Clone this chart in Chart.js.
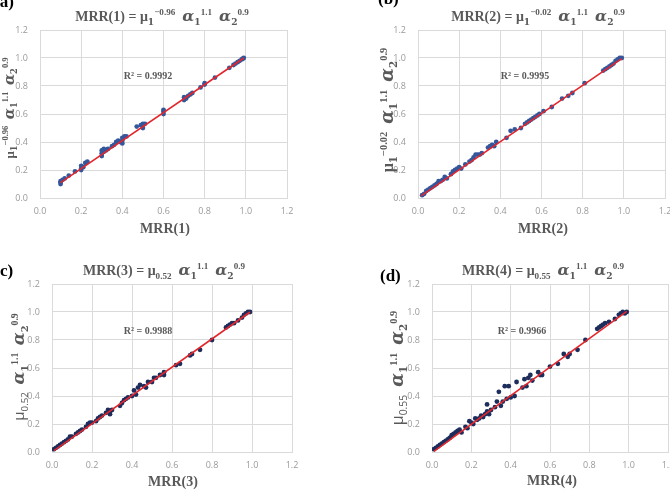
<!DOCTYPE html>
<html>
<head>
<meta charset="utf-8">
<script src="https://cdn.jsdelivr.net/npm/chart.js@4/dist/chart.umd.min.js"></script>
<style>
  html, body { margin: 0; padding: 0; background: #fff; }
  body { width: 670px; height: 497px; position: relative; overflow: hidden; font-family: "Liberation Serif", serif; }
  canvas { position: absolute; }
  .txt { position: absolute; white-space: nowrap; color: #595959; font-weight: bold; transform: translate(-50%, -50%); line-height: 1; }
  .ttl { font-size: 14px; }
  .ax { font-size: 14px; }
  .r2 { font-size: 10px; }
  .yt { transform: translate(-50%, -50%) rotate(-90deg); }
  .tag { position: absolute; color: #000; font-weight: bold; font-size: 17px; line-height: 1; }
  .al { font-family: "DejaVu Serif", serif; font-style: italic; font-weight: bold; font-size: 112%; }
  .bs { font-family: "DejaVu Serif", serif; font-weight: bold; }
  .mu { font-family: "Liberation Serif", serif; }
  .mus { font-family: "Open Sans", sans-serif; font-weight: normal; }
  sub, sup { font-size: 65%; line-height: 0; }
</style>
</head>
<body>
<script>
// tick labels shared by every panel
const TICKS = [0, 0.2, 0.4, 0.6, 0.8, 1.0, 1.2];

// (a) MRR(1) vs model
const mrr1Points = [
  [0.10, 0.11], [0.10, 0.12], [0.10, 0.10], [0.11, 0.13], [0.12, 0.14], [0.14, 0.16], [0.17, 0.19],
  [0.20, 0.21], [0.20, 0.23], [0.20, 0.20], [0.21, 0.22], [0.22, 0.25], [0.23, 0.26],
  [0.30, 0.30], [0.30, 0.32], [0.30, 0.34], [0.31, 0.33], [0.31, 0.35], [0.32, 0.34], [0.33, 0.35],
  [0.35, 0.37], [0.36, 0.38], [0.37, 0.40], [0.38, 0.41], [0.39, 0.40], [0.40, 0.41], [0.40, 0.43],
  [0.40, 0.39], [0.41, 0.44], [0.42, 0.44], [0.47, 0.51], [0.49, 0.52], [0.50, 0.50], [0.50, 0.53],
  [0.51, 0.53], [0.60, 0.60], [0.60, 0.62], [0.60, 0.63], [0.70, 0.70], [0.70, 0.72], [0.71, 0.71],
  [0.72, 0.73], [0.73, 0.74], [0.74, 0.75], [0.78, 0.79], [0.80, 0.81], [0.80, 0.82], [0.85, 0.86],
  [0.92, 0.93], [0.94, 0.95], [0.95, 0.96], [0.96, 0.97], [0.97, 0.98], [0.98, 0.99], [0.99, 1.00], [0.985, 0.995]
];
const fit1 = [[0.10, 0.11], [0.99, 1.00]];

// (b) MRR(2)
const mrr2Points = [
  [0.02, 0.02], [0.03, 0.03], [0.04, 0.05], [0.05, 0.06], [0.06, 0.07], [0.07, 0.08], [0.08, 0.09],
  [0.09, 0.10], [0.10, 0.12], [0.11, 0.12], [0.12, 0.13], [0.13, 0.15], [0.14, 0.14], [0.16, 0.17],
  [0.17, 0.19], [0.18, 0.20], [0.19, 0.21], [0.20, 0.22], [0.21, 0.21], [0.23, 0.24], [0.25, 0.26],
  [0.26, 0.27], [0.27, 0.29], [0.28, 0.31], [0.29, 0.31], [0.30, 0.31], [0.31, 0.32], [0.34, 0.36],
  [0.35, 0.37], [0.36, 0.38], [0.37, 0.37], [0.38, 0.40], [0.43, 0.43], [0.45, 0.48], [0.47, 0.49],
  [0.50, 0.50], [0.52, 0.53], [0.53, 0.54], [0.54, 0.55], [0.55, 0.56], [0.56, 0.57], [0.57, 0.58],
  [0.58, 0.59], [0.59, 0.60], [0.61, 0.62], [0.65, 0.65], [0.70, 0.71], [0.73, 0.73], [0.75, 0.75],
  [0.81, 0.82], [0.90, 0.91], [0.91, 0.92], [0.92, 0.93], [0.93, 0.94], [0.94, 0.95], [0.95, 0.96],
  [0.96, 0.98], [0.97, 0.99], [0.98, 1.00], [0.99, 1.00]
];
const fit2 = [[0.015, 0.015], [0.99, 0.995]];

// (c) MRR(3)
const mrr3Points = [
  [0.01, 0.02], [0.02, 0.03], [0.03, 0.04], [0.04, 0.05], [0.05, 0.06], [0.06, 0.07], [0.07, 0.08],
  [0.08, 0.09], [0.09, 0.11], [0.10, 0.11], [0.12, 0.13], [0.13, 0.14], [0.14, 0.15], [0.15, 0.16],
  [0.17, 0.18], [0.18, 0.20], [0.19, 0.21], [0.20, 0.21], [0.22, 0.22], [0.23, 0.24], [0.24, 0.25],
  [0.25, 0.26], [0.27, 0.28], [0.28, 0.30], [0.29, 0.29], [0.29, 0.27], [0.30, 0.30], [0.34, 0.33],
  [0.35, 0.35], [0.36, 0.37], [0.37, 0.38], [0.38, 0.39], [0.40, 0.40], [0.41, 0.44], [0.42, 0.41],
  [0.43, 0.46], [0.44, 0.48], [0.46, 0.47], [0.47, 0.46], [0.48, 0.50], [0.50, 0.50], [0.51, 0.53],
  [0.52, 0.53], [0.54, 0.55], [0.56, 0.55], [0.56, 0.57], [0.62, 0.62], [0.64, 0.63], [0.69, 0.69],
  [0.70, 0.70], [0.74, 0.73], [0.80, 0.80], [0.87, 0.89], [0.88, 0.90], [0.89, 0.91], [0.90, 0.92],
  [0.91, 0.92], [0.93, 0.94], [0.95, 0.96], [0.96, 0.98], [0.97, 0.99], [0.98, 1.00], [0.99, 1.00]
];
const fit3 = [[0.01, 0.01], [0.99, 1.00]];

// (d) MRR(4)
const mrr4Points = [
  [0.01, 0.02], [0.02, 0.03], [0.03, 0.04], [0.04, 0.05], [0.05, 0.06], [0.06, 0.07], [0.07, 0.08],
  [0.08, 0.09], [0.09, 0.10], [0.10, 0.12], [0.11, 0.13], [0.12, 0.14], [0.13, 0.15], [0.14, 0.16],
  [0.15, 0.14], [0.17, 0.18], [0.18, 0.17], [0.19, 0.22], [0.20, 0.21], [0.21, 0.20], [0.22, 0.24],
  [0.23, 0.23], [0.24, 0.24], [0.25, 0.26], [0.26, 0.25], [0.27, 0.27], [0.28, 0.34], [0.28, 0.29],
  [0.29, 0.27], [0.30, 0.30], [0.32, 0.32], [0.33, 0.36], [0.34, 0.43], [0.35, 0.33], [0.36, 0.36],
  [0.37, 0.47], [0.38, 0.38], [0.39, 0.47], [0.40, 0.39], [0.42, 0.40], [0.43, 0.50], [0.46, 0.46],
  [0.47, 0.52], [0.48, 0.47], [0.49, 0.53], [0.50, 0.55], [0.51, 0.51], [0.54, 0.57], [0.55, 0.55],
  [0.56, 0.55], [0.60, 0.61], [0.64, 0.63], [0.67, 0.70], [0.69, 0.68], [0.70, 0.70], [0.74, 0.73],
  [0.78, 0.80], [0.84, 0.88], [0.85, 0.89], [0.86, 0.90], [0.87, 0.91], [0.88, 0.92], [0.90, 0.93],
  [0.93, 0.95], [0.95, 0.98], [0.96, 0.99], [0.97, 1.00], [0.98, 0.99], [0.99, 1.00]
];
const fit4 = [[0.01, 0.005], [0.99, 1.005]];

const R2_LABELS = ["R² = 0.9992", "R² = 0.9995", "R² = 0.9988", "R² = 0.9966"];

function toXY(pairs) {
  return pairs.map(([x, y]) => ({ x, y }));
}

// plot-area rectangles in page pixels: [left, top, right, bottom]
const panels = [
  { points: mrr1Points, fit: fit1, dot: "#34579c", area: [40, 30, 287, 198] },
  { points: mrr2Points, fit: fit2, dot: "#34579c", area: [418, 30, 665, 198] },
  { points: mrr3Points, fit: fit3, dot: "#1d2d5c", area: [52, 284, 292, 452] },
  { points: mrr4Points, fit: fit4, dot: "#1d2d5c", area: [432, 284, 668, 452] },
];

const Y_AXIS_W = 40;
const X_AXIS_H = 24;
const PAD_TOP = 10;
const PAD_RIGHT = 14;

function makeChart(panel) {
  const [l, t, r, b] = panel.area;
  const canvas = document.createElement("canvas");
  const w = r - l + Y_AXIS_W + PAD_RIGHT;
  const h = b - t + PAD_TOP + X_AXIS_H;
  canvas.width = w;
  canvas.height = h;
  canvas.style.width = w + "px";
  canvas.style.height = h + "px";
  canvas.style.left = (l - Y_AXIS_W) + "px";
  canvas.style.top = (t - PAD_TOP) + "px";
  document.body.appendChild(canvas);

  const tickFont = { family: "'Open Sans', sans-serif", size: 9 };

  return new Chart(canvas.getContext("2d"), {
    type: "scatter",
    data: {
      datasets: [
        {
          type: "line",
          data: toXY(panel.fit),
          borderColor: "#e3262b",
          borderWidth: 1.6,
          pointRadius: 0,
          fill: false,
          order: 0,
        },
        {
          data: toXY(panel.points),
          backgroundColor: panel.dot,
          borderColor: panel.dot,
          pointRadius: 2.4,
          borderWidth: 0,
          order: 1,
        },
      ],
    },
    options: {
      responsive: false,
      animation: false,
      devicePixelRatio: 1,
      layout: { padding: { top: PAD_TOP, right: PAD_RIGHT, left: 0, bottom: 0 } },
      plugins: { legend: { display: false }, tooltip: { enabled: false } },
      scales: {
        x: {
          type: "linear",
          min: TICKS[0],
          max: TICKS[TICKS.length - 1],
          afterBuildTicks(scale) {
            scale.ticks = TICKS.map((v) => ({ value: v }));
          },
          afterFit(scale) {
            scale.height = X_AXIS_H;
            scale.paddingLeft = 0;
            scale.paddingRight = 0;
          },
          ticks: {
            callback: (v) => Number(v).toFixed(1),
            color: "#9a9a9a",
            font: tickFont,
            padding: 8,
            maxRotation: 0,
            autoSkip: false,
          },
          grid: { color: "#dadada", drawTicks: false, lineWidth: 1 },
          border: { color: "#dadada" },
        },
        y: {
          type: "linear",
          min: TICKS[0],
          max: TICKS[TICKS.length - 1],
          afterBuildTicks(scale) {
            scale.ticks = TICKS.map((v) => ({ value: v }));
          },
          afterFit(scale) {
            scale.width = Y_AXIS_W;
            scale.paddingTop = 0;
            scale.paddingBottom = 0;
          },
          ticks: {
            callback: (v) => Number(v).toFixed(1),
            color: "#9a9a9a",
            font: tickFont,
            padding: 12,
            autoSkip: false,
          },
          grid: { color: "#dadada", drawTicks: false, lineWidth: 1 },
          border: { color: "#dadada" },
        },
      },
    },
  });
}

function addText(html, cls, x, y, extra) {
  const el = document.createElement("div");
  el.className = cls;
  el.innerHTML = html;
  el.style.left = x + "px";
  el.style.top = y + "px";
  if (extra) Object.assign(el.style, extra);
  document.body.appendChild(el);
  return el;
}

panels.forEach(makeChart);

const alphaPart = '<span class="al">α</span><sub class="bs">1</sub><sup>1.1</sup>&nbsp; <span class="al">α</span><sub class="bs">2</sub><sup>0.9</sup>';
const muNeg = (e) => '<span class="mu">μ</span><sub class="bs">1</sub><sup>−' + e + '</sup>&nbsp; ';
const muSub = (s) => '<span class="mu">μ</span><sub>' + s + '</sub>&nbsp; ';
const muSubSans = (s) => '<span class="mus">μ<sub>' + s + '</sub></span>&nbsp; ';

// titles
addText("MRR(1) = " + muNeg("0.96") + alphaPart, "txt ttl", 162, 16);
addText("MRR(2) = " + muNeg("0.02") + alphaPart, "txt ttl", 538, 16);
addText("MRR(3) = " + muSub("0.52") + alphaPart, "txt ttl", 164, 270);
addText("MRR(4) = " + muSub("0.55") + alphaPart, "txt ttl", 543, 270);

// x-axis titles
addText("MRR(1)", "txt ax", 165, 229);
addText("MRR(2)", "txt ax", 543, 229);
addText("MRR(3)", "txt ax", 173, 482);
addText("MRR(4)", "txt ax", 552, 481);

// y-axis titles
addText(muNeg("0.96") + alphaPart, "txt yt", 9, 108, { fontSize: "13px" });
addText(muNeg("0.02") + alphaPart, "txt yt", 387, 110, { fontSize: "16px" });
addText(muSubSans("0.52") + alphaPart, "txt yt", 18, 367, { fontSize: "15px" });
addText(muSubSans("0.55") + alphaPart, "txt yt", 397, 368, { fontSize: "16px" });

// R² annotations
addText(R2_LABELS[0], "txt r2", 148, 76);
addText(R2_LABELS[1], "txt r2", 525, 76);
addText(R2_LABELS[2], "txt r2", 148, 331);
addText(R2_LABELS[3], "txt r2", 522, 331);

// panel tags
addText("(a)", "tag", -6, -7);
addText("(b)", "tag", 378, -10);
addText("c)", "tag", 0, 262);
addText("(d)", "tag", 380, 267);
</script>
</body>
</html>
